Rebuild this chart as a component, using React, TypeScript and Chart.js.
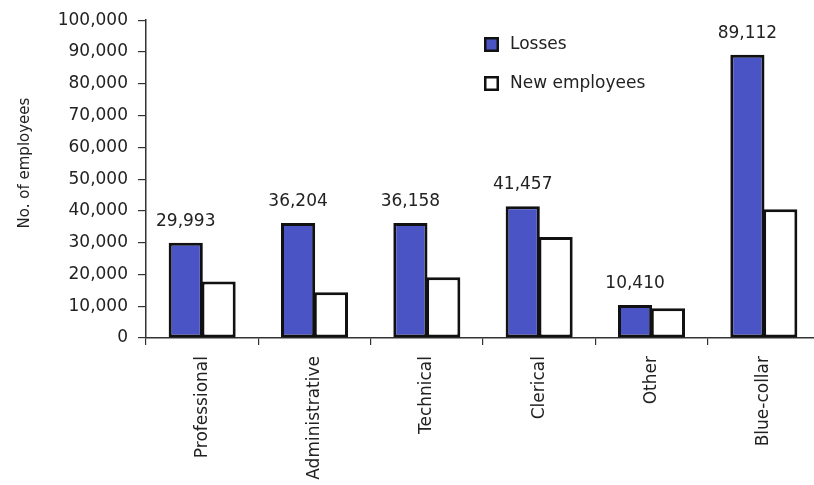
import React, { useEffect, useRef } from 'react';
import { Chart, registerables } from 'chart.js';

Chart.register(...registerables);

const categories = ['Professional', 'Administrative', 'Technical', 'Clerical', 'Other', 'Blue-collar'];
const losses = [29993, 36204, 36158, 41457, 10410, 89112];
const newEmployees = [17800, 14400, 19100, 31800, 9400, 40500];
const seriesNames = ['Losses', 'New employees'];
const yTitle = 'No. of employees';
const yMin = 0;
const yMax = 100000;
const yStep = 10000;

const FONT = "'DejaVu Sans', sans-serif";
const BLUE = '#4a54c4';
const TEXT = '#222222';
const AXIS = '#333333';

const fmt = (v: number) => v.toLocaleString('en-US');

const extrasPlugin = {
  id: 'extras',
  afterDatasetsDraw(chart: any) {
    const ctx = chart.ctx;
    ctx.save();
    // value labels above Losses bars
    const meta = chart.getDatasetMeta(0);
    ctx.font = `17px ${FONT}`;
    ctx.fillStyle = TEXT;
    ctx.textAlign = 'center';
    ctx.textBaseline = 'alphabetic';
    meta.data.forEach((el: any, i: number) => {
      ctx.fillText(fmt(losses[i]), el.x, el.y - 17);
    });

    // y title
    ctx.save();
    ctx.translate(25, 163);
    ctx.rotate(-Math.PI / 2);
    ctx.font = `15px ${FONT}`;
    ctx.textAlign = 'center';
    ctx.textBaseline = 'middle';
    ctx.fillText(yTitle, 0, 0);
    ctx.restore();

    // legend
    const fills = [BLUE, '#ffffff'];
    const lx = 484;
    const ly = [37, 76];
    ctx.font = `17px ${FONT}`;
    ctx.textAlign = 'left';
    ctx.textBaseline = 'middle';
    seriesNames.forEach((name, i) => {
      ctx.fillStyle = fills[i];
      ctx.fillRect(lx, ly[i], 15, 15);
      ctx.strokeStyle = '#111';
      ctx.lineWidth = 2.5;
      ctx.strokeRect(lx + 1.25, ly[i] + 1.25, 12.5, 12.5);
      ctx.fillStyle = TEXT;
      ctx.fillText(name, lx + 26, ly[i] + 8);
    });
    ctx.restore();
  },
};

export default function App() {
  const ref = useRef<HTMLCanvasElement | null>(null);
  useEffect(() => {
    if (!ref.current) return;
    const chart = new Chart(ref.current, {
      type: 'bar',
      data: {
        labels: categories,
        datasets: [
          {
            label: seriesNames[0],
            data: losses,
            backgroundColor: BLUE,
            borderColor: '#111',
            borderWidth: 3,
            borderSkipped: false,
            barPercentage: 1.04,
            categoryPercentage: 0.585,
          },
          {
            label: seriesNames[1],
            data: newEmployees,
            backgroundColor: '#ffffff',
            borderColor: '#111',
            borderWidth: 3,
            borderSkipped: false,
            barPercentage: 1.04,
            categoryPercentage: 0.585,
          },
        ],
      },
      options: {
        responsive: false,
        animation: false,
        devicePixelRatio: 1,
        layout: { padding: { top: 19, right: 10, left: 0, bottom: 0 } },
        plugins: {
          legend: { display: false },
          tooltip: { enabled: false },
        },
        scales: {
          x: {
            offset: true,
            grid: {
              display: true,
              offset: true,
              drawOnChartArea: false,
              drawTicks: true,
              tickLength: 7,
              color: AXIS,
              lineWidth: 1.2,
            },
            border: { display: true, color: AXIS, width: 1.5 },
            ticks: {
              minRotation: 90,
              maxRotation: 90,
              padding: 11,
              color: TEXT,
              font: { family: FONT, size: 17 },
            },
            afterFit: (scale: any) => {
              scale.height = 147;
            },
          },
          y: {
            min: yMin,
            max: yMax,
            ticks: {
              stepSize: yStep,
              padding: 10,
              color: TEXT,
              font: { family: FONT, size: 17 },
              callback: (v: any) => fmt(Number(v)),
            },
            grid: {
              display: true,
              drawOnChartArea: false,
              drawTicks: true,
              tickLength: 8,
              color: AXIS,
              lineWidth: 1.2,
            },
            border: { display: true, color: AXIS, width: 1.5 },
            afterFit: (scale: any) => {
              scale.width = 146;
            },
          },
        },
      },
      plugins: [extrasPlugin],
    });
    return () => chart.destroy();
  }, []);

  return (
    <div style={{ position: 'fixed', left: 0, top: 0, width: 814, height: 485, overflow: 'hidden', background: '#fff' }}>
      <canvas ref={ref} width={830} height={485} style={{ display: 'block' }} />
    </div>
  );
}
